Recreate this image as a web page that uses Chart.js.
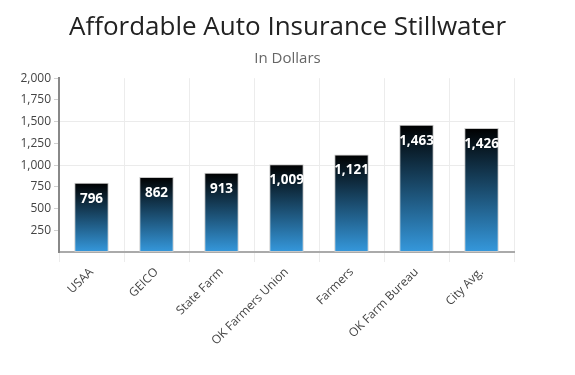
<!DOCTYPE html>
<html>
<head>
<meta charset="utf-8">
<script src="https://cdn.jsdelivr.net/npm/chart.js@4"></script>
<style>
  html, body { margin: 0; padding: 0; background: #fff; }
  #wrap { width: 575px; height: 375px; }
</style>
</head>
<body>
<div id="wrap"><canvas id="insuranceChart"></canvas></div>
<script>
const companies = ["USAA", "GEICO", "State Farm", "OK Farmers Union", "Farmers", "OK Farm Bureau", "City Avg."];
const premiums = [796, 862, 913, 1009, 1121, 1463, 1426];
const yTicks = [250, 500, 750, 1000, 1250, 1500, 1750, 2000];

Chart.defaults.font.family = "'Open Sans', sans-serif";

// white value labels inside the top of each bar
const barLabels = {
  id: "barLabels",
  afterDatasetsDraw(chart) {
    const ctx = chart.ctx;
    const meta = chart.getDatasetMeta(0);
    ctx.save();
    ctx.font = "bold 13.5px 'Open Sans', sans-serif";
    ctx.fillStyle = "#fff";
    ctx.textAlign = "center";
    ctx.textBaseline = "middle";
    meta.data.forEach((bar, i) => {
      ctx.fillText(premiums[i].toLocaleString("en-US"), bar.x, bar.y + 16);
    });
    ctx.restore();
  }
};

const barGradient = (context) => {
  const chart = context.chart;
  const yScale = chart.scales.y;
  if (!chart.chartArea || !yScale) return "#2a7ab5";
  const value = premiums[context.dataIndex];
  const top = yScale.getPixelForValue(value);
  const bottom = yScale.getPixelForValue(0);
  const grad = chart.ctx.createLinearGradient(0, top, 0, bottom);
  grad.addColorStop(0, "#000000");
  grad.addColorStop(1, "#3598dc");
  return grad;
};

const ctx = document.getElementById("insuranceChart").getContext("2d");
new Chart(ctx, {
  type: "bar",
  data: {
    labels: companies,
    datasets: [{
      data: premiums,
      backgroundColor: barGradient,
      borderColor: "#c8c8c8",
      borderWidth: 1,
      borderSkipped: false,
      categoryPercentage: 1,
      barPercentage: 0.53
    }]
  },
  options: {
    responsive: true,
    maintainAspectRatio: false,
    animation: false,
    layout: { padding: 0 },
    plugins: {
      legend: { display: false },
      tooltip: { enabled: false },
      title: {
        display: true,
        text: "Affordable Auto Insurance Stillwater",
        color: "#222",
        font: { size: 26, weight: "normal" },
        padding: { top: 12, bottom: 0 }
      },
      subtitle: {
        display: true,
        text: "In Dollars",
        color: "#666",
        font: { size: 15, weight: "normal" },
        padding: { top: 7, bottom: 10 }
      }
    },
    scales: {
      x: {
        afterFit: (scale) => { scale.height = 123; },
        grid: {
          offset: true,
          color: "#ececec",
          tickColor: "#ececec",
          tickLength: 10
        },
        border: { color: "#aaa", width: 2 },
        ticks: {
          color: "#444",
          font: { size: 12 },
          maxRotation: 45,
          minRotation: 45,
          padding: 3
        }
      },
      y: {
        min: 0,
        max: 2000,
        afterFit: (scale) => { scale.width = 59; },
        afterBuildTicks: (scale) => {
          scale.ticks = yTicks.map(v => ({ value: v }));
        },
        grid: {
          color: (c) => (c.tick && (c.tick.value === 1000 || c.tick.value === 1500)) ? "#ebebeb" : "rgba(0,0,0,0)",
          tickColor: "#d0d0d0",
          tickLength: 5
        },
        border: { color: "#888", width: 2 },
        ticks: {
          color: "#444",
          font: { size: 12 },
          padding: 3,
          callback: (v) => v.toLocaleString("en-US")
        }
      },
      // empty right-hand axis, only reserves the blank margin on the right
      yRight: {
        position: "right",
        min: 0,
        max: 2000,
        afterFit: (scale) => { scale.width = 61; },
        grid: { display: false },
        border: { display: false },
        ticks: { display: false }
      }
    }
  },
  plugins: [barLabels]
});
</script>
</body>
</html>
